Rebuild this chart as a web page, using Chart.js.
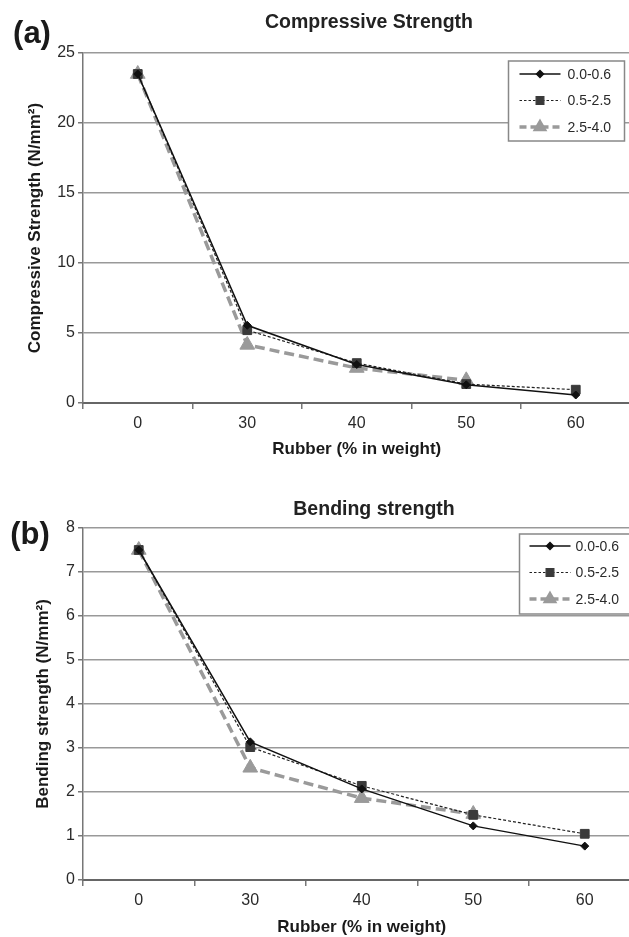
<!DOCTYPE html>
<html>
<head>
<meta charset="utf-8">
<script src="https://cdn.jsdelivr.net/npm/chart.js@4/dist/chart.umd.min.js"></script>
<style>
  html, body { margin: 0; padding: 0; background: #fff; }
  #page { position: relative; width: 629px; height: 937px; overflow: hidden; font-family: "Liberation Sans", Arial, sans-serif; }
  canvas { position: absolute; left: 0; }
  .lbl { position: absolute; transform: translate(-50%, -50%); white-space: nowrap; color: #1a1a1a; font-weight: bold; }
  .panel { font-size: 31px; }
  .ttl { font-size: 19.5px; color: #222; }
</style>
</head>
<body>
<div id="page">
  <canvas id="compCanvas" width="640" height="470" style="top:0"></canvas>
  <canvas id="bendCanvas" width="650" height="468" style="top:470px"></canvas>
  <div class="lbl panel" style="left:32px; top:33px">(a)</div>
  <div class="lbl ttl" style="left:369px; top:21px">Compressive Strength</div>
  <div class="lbl panel" style="left:30px; top:534px">(b)</div>
  <div class="lbl ttl" style="left:374px; top:508px">Bending strength</div>
</div>
<script>
/* global Chart */

// rubber content (% in weight)
const rubber = ["0", "30", "40", "50", "60"];
// rubber particle size ranges (mm)
const sizeRanges = ["0.0-0.6", "0.5-2.5", "2.5-4.0"];

// compressive strength, N/mm2
const compFine = [23.5, 5.55, 2.75, 1.3, 0.57];
const compMid = [23.5, 5.2, 2.85, 1.35, 0.95];
const compCoarse = [23.5, 4.15, 2.5, 1.62, null];

// bending strength, N/mm2
const bendFine = [7.5, 3.14, 2.07, 1.23, 0.77];
const bendMid = [7.5, 3.02, 2.14, 1.48, 1.05];
const bendCoarse = [7.5, 2.55, 1.86, 1.5, null];

const compTicks = { max: 25, step: 5 };
const bendTicks = { max: 8, step: 1 };

const FONT = '"Liberation Sans", Arial, sans-serif';

const styles = [
  { borderColor: "#111", backgroundColor: "#111", borderWidth: 1.5, borderDash: [], pointStyle: "rectRot", pointRadius: 4, legendRadius: 3.5 },
  { borderColor: "#222", backgroundColor: "#3a3a3a", borderWidth: 1.2, borderDash: [3, 2], pointStyle: "rect", pointRadius: 6.2, legendRadius: 5.5 },
  { borderColor: "#9a9a9a", backgroundColor: "#9a9a9a", borderWidth: 3.5, borderDash: [10, 5], pointStyle: "triangle", pointRadius: 8.5, legendRadius: 5 },
];

// legend box drawn inside the plot area, like the original
const boxLegend = {
  id: "boxLegend",
  afterDatasetsDraw(chart, args, opts) {
    const { ctx, chartArea } = chart;
    const w = 116, h = 80;
    const x0 = chartArea.right - opts.right - w;
    const y0 = chartArea.top + opts.top;
    ctx.save();
    ctx.fillStyle = "#fff";
    ctx.fillRect(x0, y0, w, h);
    ctx.strokeStyle = "#888";
    ctx.lineWidth = 1.5;
    ctx.strokeRect(x0, y0, w, h);
    chart.data.datasets.forEach((ds, i) => {
      const st = styles[i];
      const y = y0 + opts.rowTop + i * 26.5;
      ctx.beginPath();
      ctx.setLineDash(i === 1 ? [2.5, 2] : i === 2 ? [7, 4] : []);
      ctx.strokeStyle = st.borderColor;
      ctx.lineWidth = st.borderWidth;
      ctx.moveTo(x0 + opts.lineFrom, y);
      ctx.lineTo(x0 + opts.lineFrom + 41, y);
      ctx.stroke();
      ctx.setLineDash([]);
      ctx.fillStyle = st.backgroundColor;
      ctx.strokeStyle = st.backgroundColor;
      Chart.helpers.drawPoint(ctx, { pointStyle: st.pointStyle, radius: st.legendRadius, rotation: 0, borderWidth: 1 }, x0 + opts.lineFrom + 20.5, y);
      ctx.fillStyle = "#2a2a2a";
      ctx.font = "14px " + FONT;
      ctx.textBaseline = "middle";
      ctx.fillText(ds.label, x0 + opts.textFrom, y + 1);
    });
    ctx.restore();
  },
};

function makeDatasets(series) {
  return series.map((values, i) => ({
    label: sizeRanges[i],
    data: values,
    borderColor: styles[i].borderColor,
    backgroundColor: styles[i].backgroundColor,
    pointBackgroundColor: styles[i].backgroundColor,
    pointBorderColor: styles[i].backgroundColor,
    borderWidth: styles[i].borderWidth,
    borderDash: styles[i].borderDash,
    pointStyle: styles[i].pointStyle,
    pointRadius: styles[i].pointRadius,
    pointBorderWidth: 1,
    tension: 0,
    spanGaps: false,
    fill: false,
  }));
}

function makeChart(canvasId, series, ticks, yTitle, cfg) {
  return new Chart(document.getElementById(canvasId), {
    type: "line",
    data: { labels: rubber, datasets: makeDatasets(series) },
    plugins: [boxLegend],
    options: {
      responsive: false,
      animation: false,
      events: [],
      layout: { padding: { left: 0, top: cfg.top, right: cfg.right, bottom: 0 } },
      plugins: {
        legend: { display: false },
        title: { display: false },
        tooltip: { enabled: false },
        boxLegend: cfg.legend,
      },
      scales: {
        x: {
          type: "category",
          offset: true,
          afterFit: (s) => { s.height = cfg.xHeight; },
          grid: { offset: true, drawOnChartArea: false, drawTicks: true, tickLength: 6, color: "#777", lineWidth: 1.5 },
          border: { display: true, color: "#666", width: 2 },
          ticks: { color: "#2a2a2a", font: { family: FONT, size: 16 }, padding: 5, maxRotation: 0 },
          title: {
            display: true,
            text: "Rubber (% in weight)",
            color: "#1a1a1a",
            font: { family: FONT, size: 17, weight: "bold" },
            padding: { top: 0, bottom: cfg.xTitlePad },
          },
        },
        y: {
          min: 0,
          max: ticks.max,
          afterFit: (s) => { s.width = 83; },
          grid: { color: "#999", lineWidth: 1.5, drawTicks: true, tickLength: 5, tickColor: "#777" },
          border: { display: true, color: "#777", width: 1.5 },
          ticks: { stepSize: ticks.step, color: "#2a2a2a", font: { family: FONT, size: 16 }, padding: 3 },
          title: {
            display: true,
            text: yTitle,
            color: "#1a1a1a",
            font: { family: FONT, size: 17, weight: "bold" },
            padding: { top: cfg.yTitlePad, bottom: 0 },
          },
        },
      },
    },
  });
}

makeChart("compCanvas", [compFine, compMid, compCoarse], compTicks, "Compressive Strength (N/mm²)", {
  top: 53, right: 9, xHeight: 67, xTitlePad: 10, yTitlePad: 25,
  legend: { right: 6, top: 8, rowTop: 13, lineFrom: 11, textFrom: 59 },
});

makeChart("bendCanvas", [bendFine, bendMid, bendCoarse], bendTicks, "Bending strength (N/mm²)", {
  top: 58, right: 7, xHeight: 58, xTitlePad: 0, yTitlePad: 33,
  legend: { right: 5, top: 6, rowTop: 12, lineFrom: 10, textFrom: 56 },
});
</script>
</body>
</html>
